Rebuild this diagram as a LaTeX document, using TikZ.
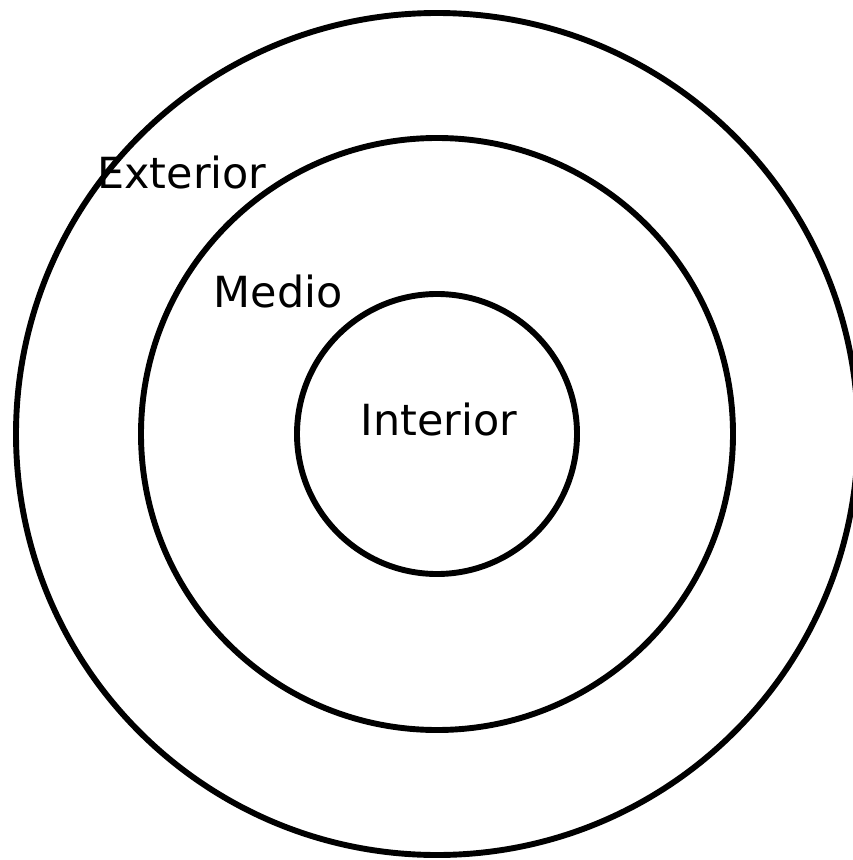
\documentclass[tikz,border=0pt]{standalone}
\usepackage{fontspec}
\setmainfont{DejaVu Sans}
\usepackage{tikz}
\tikzset{
  ring/.style={line width=4.2pt, draw=black},
  ringlabel/.style={anchor=base, font=\fontsize{30.5}{36}\selectfont, inner sep=0pt}
}

\begin{document}
\begin{tikzpicture}[x=0.025cm, y=-0.025cm]
  \useasboundingbox (0,0) rectangle (853,860);
  % Kruhy
  \coordinate (center) at (437,434);
  \draw[ring] (center) circle[radius=421];
  \draw[ring] (center) circle[radius=296];
  \draw[ring] (center) circle[radius=140];

  % Popisy
  \node[ringlabel] (exterior) at (182,188) {Exterior};
  \node[ringlabel] (medio) at (278,307) {Medio};
  \node[ringlabel] (interior) at (439,435) {Interior};
\end{tikzpicture}
\end{document}
